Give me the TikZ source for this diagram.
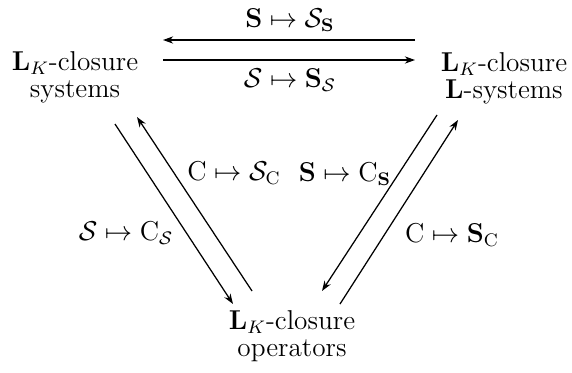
\documentclass[tikz,border=0pt]{standalone}
\usepackage{amsmath,amssymb}
\usepackage{tikz}
\usetikzlibrary{arrows.meta,positioning}
\tikzset{
    conjunto/.style={
        align=center,
        inner sep=1pt
    },
    rotulo/.style={inner sep=1pt},
    seta/.style={-{Stealth[length=4.5pt,width=3.2pt]}, line width=0.55pt}
}

\begin{document}
\begin{tikzpicture}[x=0.44pt, y=-0.44pt, font=\fontsize{12}{11.8}\selectfont]
        \useasboundingbox (0,0) rectangle (572,372);
        % os tres conjuntos
        \node[conjunto] (sistemas) at (75,77)
            {$\mathbf{L}_K$-closure\\systems};
        \node[conjunto] (lsistemas) at (504,78)
            {$\mathbf{L}_K$-closure\\$\mathbf{L}$-systems};
        \node[conjunto] (operadores) at (292,336)
            {$\mathbf{L}_K$-closure\\operators};

        % pontas das setas
        \coordinate (hA) at (415,40);
        \coordinate (hB) at (163,40);
        \coordinate (hC) at (163,60);
        \coordinate (hD) at (415,60);
        \coordinate (eA) at (115,124);
        \coordinate (eB) at (233,304);
        \coordinate (eC) at (252,291);
        \coordinate (eD) at (137,117);
        \coordinate (dA) at (437,115);
        \coordinate (dB) at (322,291);
        \coordinate (dC) at (340,304);
        \coordinate (dD) at (458,120);

        \draw[seta] (hA) -- (hB);
        \draw[seta] (hC) -- (hD);
        \draw[seta] (eA) -- (eB);
        \draw[seta] (eC) -- (eD);
        \draw[seta] (dA) -- (dB);
        \draw[seta] (dC) -- (dD);

        % rotulos
        \node[rotulo] (rSS) at (290,20) {$\mathbf{S}\mapsto\mathcal{S}_{\mathbf{S}}$};
        \node[rotulo] (rSs) at (290,80) {$\mathcal{S}\mapsto\mathbf{S}_{\mathcal{S}}$};
        \node[rotulo] (rCS) at (234,173) {$\mathrm{C}\mapsto\mathcal{S}_{\mathrm{C}}$};
        \node[rotulo] (rSC) at (126,233) {$\mathcal{S}\mapsto\mathrm{C}_{\mathcal{S}}$};
        \node[rotulo] (rSCs) at (345,174) {$\mathbf{S}\mapsto\mathrm{C}_{\mathbf{S}}$};
        \node[rotulo] (rCSc) at (452,235) {$\mathrm{C}\mapsto\mathbf{S}_{\mathrm{C}}$};
    \end{tikzpicture}
\end{document}
